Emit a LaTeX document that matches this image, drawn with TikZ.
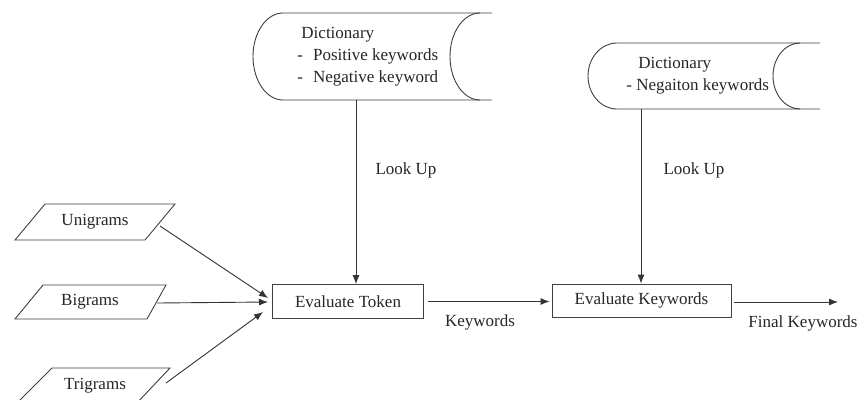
\documentclass[tikz,border=0pt]{standalone}
\usepackage{fontspec}
\setmainfont{Liberation Serif}
\newfontfamily\tnr{Liberation Serif}
\usetikzlibrary{arrows.meta}
\begin{document}
\begin{tikzpicture}[x=1pt,y=1pt,
  line width=0.9pt,
  every node/.style={font=\tnr\fontsize{17}{22}\selectfont, text=black!85, inner sep=0pt},
  shapeline/.style={draw=black!75, line width=0.9pt},
  procbox/.style={draw=black!75, line width=0.9pt, rectangle},
  conn/.style={draw=black!80, line width=0.9pt, -{Latex[length=9pt,width=7pt]}},
  lbl/.style={}]
\useasboundingbox (0,0) rectangle (858,-399);
\clip (0,0) rectangle (858,-399);
\fill[white] (0,0) rectangle (858,-399);

% ---- Dictionary 1 ----
\draw[shapeline] (492,-13) -- (283,-13)
  arc[start angle=90,end angle=270,x radius=30,y radius=43.5] -- (492,-100);
\draw[shapeline] (480,-13) arc[start angle=90,end angle=270,x radius=30,y radius=43.5];
\node[anchor=west, align=left] (dict1) at (297,-56.5)
  {\hspace*{4pt}Dictionary\\-\hspace*{10pt}Positive keywords\\-\hspace*{10pt}Negative keyword};
\coordinate (d1b) at (356,-100);

% ---- Dictionary 2 ----
\draw[shapeline] (820,-43) -- (617,-43)
  arc[start angle=90,end angle=270,x radius=29,y radius=33] -- (820,-109);
\draw[shapeline] (800,-43) arc[start angle=90,end angle=270,x radius=27,y radius=33];
\node[anchor=west, align=left] (dict2) at (626,-76)
  {\hspace*{12pt}Dictionary\\- Negaiton keywords};
\coordinate (d2b) at (641,-109);

% ---- Input parallelograms ----
\draw[shapeline] (15,-240) -- (45,-204) -- (175,-204) -- (145,-240) -- cycle;
\node (uni) at (95,-222) {Unigrams};
\draw[shapeline] (15,-319) -- (43,-285) -- (166,-285) -- (147,-319) -- cycle;
\node (bi) at (90,-302) {Bigrams};
\draw[shapeline] (15,-405) -- (52,-368) -- (170,-368) -- (135,-405) -- cycle;
\node (tri) at (95,-386) {Trigrams};
\coordinate (unis) at (160,-226);
\coordinate (bis) at (157,-303);
\coordinate (tris) at (166,-383);

% ---- Process boxes ----
\node[procbox, minimum width=151pt, minimum height=34pt] (et) at (348,-301.5) {Evaluate Token};
\node[procbox, minimum width=179pt, minimum height=33pt] (ek) at (641.5,-300.5) {Evaluate Keywords};

% ---- Connectors ----
\draw[conn] (d1b) -- (d1b |- et.north);
\draw[conn] (d2b) -- (d2b |- ek.north);
\node (lu1) at (406,-170) {Look Up};
\node (lu2) at (694,-170) {Look Up};

\coordinate (etin1) at (268,-298);
\coordinate (etin2) at (268,-302);
\coordinate (etin3) at (263,-312);
\draw[conn] (unis) -- (etin1);
\draw[conn] (bis) -- (etin2);
\draw[conn] (tris) -- (etin3);

\draw[conn] ([xshift=4pt]et.east) -- ([xshift=-2pt]ek.west |- et.east);
\node (kw) at (480,-322) {Keywords};
\coordinate (fin) at (838,-302);
\draw[conn] ([xshift=3pt]ek.east |- fin) -- (fin);
\node (fk) at (803,-323) {Final Keywords};
\end{tikzpicture}
\end{document}
